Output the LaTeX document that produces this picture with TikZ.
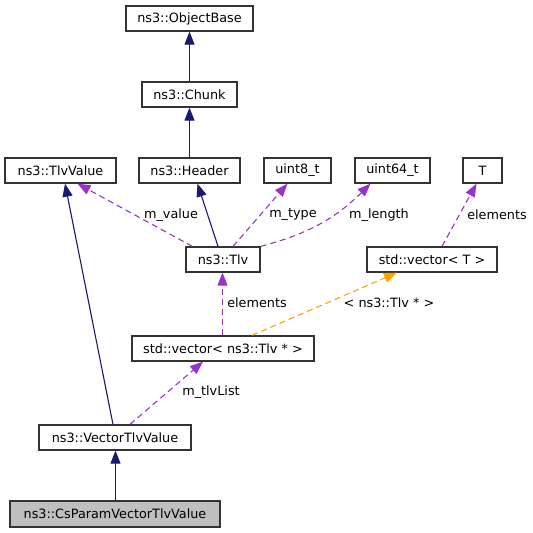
\documentclass[tikz,border=0pt]{standalone}
\usepackage{fontspec}
\setmainfont{DejaVu Sans}
\usepackage{tikz}
\usetikzlibrary{arrows.meta}
\definecolor{edgeblue}{HTML}{191970}
\definecolor{edgepurple}{HTML}{9A32CD}
\definecolor{edgeorange}{HTML}{FFA500}
\definecolor{boxgray}{HTML}{333333}
\newcommand{\dxf}{\fontsize{12.8pt}{15pt}\selectfont}
\tikzstyle{every node}=[font=\dxf]
\tikzstyle{cls}=[draw=boxgray,line width=1.3pt,minimum height=25pt,inner sep=0pt,fill=white]
\tikzstyle{inh}=[draw=edgeblue,line width=1.1pt,-{Triangle[length=13pt,width=10pt]}]
\tikzstyle{use}=[draw=edgepurple,line width=1.1pt,dash pattern=on 6pt off 4pt,-{Triangle[length=13pt,width=10pt]}]
\tikzstyle{tmpl}=[draw=edgeorange,line width=1.1pt,dash pattern=on 6pt off 4pt,-{Triangle[length=13pt,width=10pt]}]
\tikzstyle{lbl}=[inner sep=0pt]

\begin{document}
\begin{tikzpicture}[x=1pt,y=-1pt]
    \useasboundingbox (0,0) rectangle (533,533);
    % classes
    \node[cls,minimum width=127pt] (objbase) at (189.5,18.5) {ns3::ObjectBase};
    \node[cls,minimum width=95pt] (chunk) at (189.5,94.5) {ns3::Chunk};
    \node[cls,minimum width=111pt] (tlvvalue) at (60.5,170.5) {ns3::TlvValue};
    \node[cls,minimum width=101pt] (header) at (189.5,170.5) {ns3::Header};
    \node[cls,minimum width=67pt] (ueight) at (297.5,170.5) {uint8\_t};
    \node[cls,minimum width=75pt] (usixfour) at (392.5,170.5) {uint64\_t};
    \node[cls,minimum width=39pt] (tee) at (482.5,170.5) {T};
    \node[cls,minimum width=74pt] (tlv) at (223,259.5) {ns3::Tlv};
    \node[cls,minimum width=130pt] (vect) at (432,259.5) {std::vector< T >};
    \node[cls,minimum width=182pt] (vectlv) at (223,348.5) {std::vector< ns3::Tlv * >};
    \node[cls,minimum width=152pt] (vtlvvalue) at (115,437.5) {ns3::VectorTlvValue};
    \node[cls,minimum width=210pt,minimum height=26pt,fill=black!25] (csparam) at (115,514) {ns3::CsParamVectorTlvValue};
    % inheritance
    \draw[inh] (chunk) -- (objbase);
    \draw[inh] (header) -- (chunk);
    \draw[inh] ([xshift=-5pt]tlv.north) -- ([xshift=8pt]header.south);
    \draw[inh] ([xshift=-2pt]vtlvvalue.north) -- ([xshift=4.5pt]tlvvalue.south);
    \draw[inh] ([xshift=0.5pt]csparam.north) -- ([xshift=0.5pt]vtlvvalue.south);
    % members
    \draw[use] ([xshift=7pt]tlv.north west) -- ([xshift=17pt]tlvvalue.south);
    \draw[use] ([xshift=10pt]tlv.north) -- ([xshift=-10pt]ueight.south);
    \draw[use] (tlv.north east) to[bend right=15] ([xshift=-22pt]usixfour.south);
    \draw[use] ([xshift=10pt]vect.north) -- ([xshift=-6pt]tee.south);
    \draw[use] ([xshift=-0.5pt]vectlv.north) -- ([xshift=-0.5pt]tlv.south);
    \draw[use] ([xshift=15pt]vtlvvalue.north) -- ([xshift=-20pt]vectlv.south);
    \draw[tmpl] ([xshift=29pt]vectlv.north) -- ([xshift=-35pt]vect.south);
    % labels
    \node[lbl] (lvalue) at (171,215) {m\_value};
    \node[lbl] (ltype) at (293,215) {m\_type};
    \node[lbl] (llength) at (379,215) {m\_length};
    \node[lbl] (lelemt) at (497,215) {elements};
    \node[lbl] (lelemtlv) at (257,303) {elements};
    \node[lbl] (ltmpl) at (389,303) {< ns3::Tlv * >};
    \node[lbl] (llist) at (211,392) {m\_tlvList};
\end{tikzpicture}
\end{document}
